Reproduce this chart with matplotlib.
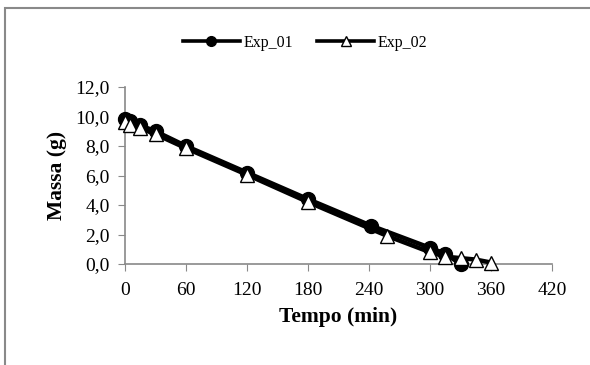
import matplotlib.pyplot as plt
from matplotlib.patches import Rectangle

# --- Data ---
t_exp01 = [0, 5, 15, 30, 60, 120, 180, 242, 300, 315, 330]
m_exp01 = [9.8, 9.7, 9.4, 9.0, 8.0, 6.2, 4.4, 2.6, 1.1, 0.7, 0.0]

t_exp02 = [0, 5, 15, 30, 60, 120, 180, 258, 300, 315, 330, 345, 360]
m_exp02 = [9.6, 9.45, 9.2, 8.8, 7.85, 6.05, 4.2, 1.9, 0.8, 0.5, 0.4, 0.3, 0.1]

x_ticks = [0, 60, 120, 180, 240, 300, 360, 420]
y_ticks = [0, 2, 4, 6, 8, 10, 12]

plt.rcParams['font.family'] = 'Liberation Serif'

fig = plt.figure(figsize=(5.9, 3.65), dpi=100)
ax = fig.add_axes([125 / 590, 101 / 365, 427 / 590, 177 / 365])

ax.plot(t_exp01, m_exp01, color='black', lw=3.2, marker='o', ms=10,
        mfc='black', mec='black', label='Exp_01', zorder=3, clip_on=False)
ax.plot(t_exp02, m_exp02, color='black', lw=3.2, marker='^', ms=10,
        mfc='white', mec='black', mew=1.0, label='Exp_02', zorder=4,
        clip_on=False)

ax.set_xlim(0, 420)
ax.set_ylim(0, 12)
ax.set_xticks(x_ticks)
ax.set_yticks(y_ticks)
ax.set_yticklabels([f"{v:.1f}".replace('.', ',') for v in y_ticks])
ax.tick_params(labelsize=14, color='#898989', direction='out', length=5)
ax.tick_params(axis='x', pad=8)
ax.tick_params(axis='y', pad=6)

for s in ['top', 'right']:
    ax.spines[s].set_visible(False)
for s in ['left', 'bottom']:
    ax.spines[s].set_color('#898989')
    ax.spines[s].set_linewidth(1.2)

ax.set_xlabel('Tempo (min)', fontsize=15.5, fontweight='bold', labelpad=6)
ax.set_ylabel('Massa (g)', fontsize=15.5, fontweight='bold', labelpad=6)

leg = fig.legend(loc='center', bbox_to_anchor=(305 / 590, 1 - 43 / 365),
                 ncol=2, frameon=False, fontsize=11.5, handlelength=3.6,
                 markerscale=0.7, columnspacing=1.5, handletextpad=0.2)
for h in leg.legend_handles:
    h.set_linewidth(2.6)

# outer grey frame of the chart area
fig.patches.append(Rectangle((5 / 590, -0.1), 1.0, 1.1 - 8 / 365,
                             transform=fig.transFigure, fill=False,
                             edgecolor='#898989', lw=1.5))

plt.savefig('out.png', dpi=100)
